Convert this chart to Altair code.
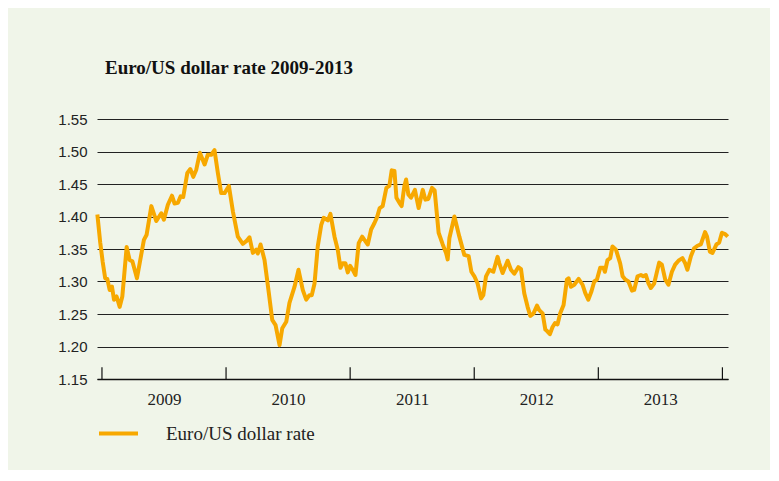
import altair as alt
import pandas as pd

# --- data (decimal year, EUR/USD rate) ---
time_years = [
    2008.963, 2008.986, 2009.006, 2009.026, 2009.043, 2009.062, 2009.081, 2009.097, 2009.118, 2009.143,
    2009.164, 2009.199, 2009.223, 2009.245, 2009.282, 2009.338, 2009.360, 2009.398, 2009.438, 2009.478,
    2009.499, 2009.531, 2009.564, 2009.585, 2009.612, 2009.634, 2009.655, 2009.688, 2009.712, 2009.736,
    2009.760, 2009.789, 2009.827, 2009.853, 2009.881, 2009.907, 2009.934, 2009.961, 2009.988, 2010.023,
    2010.055, 2010.095, 2010.135, 2010.163, 2010.189, 2010.216, 2010.243, 2010.256, 2010.278, 2010.310,
    2010.345, 2010.372, 2010.399, 2010.431, 2010.453, 2010.485, 2010.511, 2010.552, 2010.584, 2010.618,
    2010.646, 2010.672, 2010.691, 2010.713, 2010.739, 2010.767, 2010.787, 2010.820, 2010.841, 2010.874,
    2010.900, 2010.922, 2010.940, 2010.962, 2010.981, 2011.000, 2011.021, 2011.043, 2011.069, 2011.097,
    2011.115, 2011.142, 2011.169, 2011.196, 2011.217, 2011.238, 2011.262, 2011.292, 2011.316, 2011.335,
    2011.357, 2011.373, 2011.397, 2011.415, 2011.437, 2011.451, 2011.469, 2011.491, 2011.522, 2011.552,
    2011.585, 2011.606, 2011.630, 2011.660, 2011.681, 2011.713, 2011.746, 2011.773, 2011.786, 2011.800,
    2011.840, 2011.880, 2011.920, 2011.955, 2011.977, 2012.001, 2012.027, 2012.055, 2012.073, 2012.095,
    2012.122, 2012.154, 2012.188, 2012.202, 2012.229, 2012.269, 2012.296, 2012.323, 2012.355, 2012.377,
    2012.403, 2012.430, 2012.452, 2012.478, 2012.506, 2012.524, 2012.551, 2012.573, 2012.591, 2012.610,
    2012.631, 2012.651, 2012.671, 2012.693, 2012.720, 2012.747, 2012.760, 2012.779, 2012.806, 2012.841,
    2012.873, 2012.895, 2012.919, 2012.945, 2012.967, 2012.989, 2013.015, 2013.042, 2013.053, 2013.074,
    2013.096, 2013.114, 2013.142, 2013.176, 2013.196, 2013.217, 2013.243, 2013.271, 2013.289, 2013.316,
    2013.343, 2013.362, 2013.383, 2013.404, 2013.423, 2013.450, 2013.490, 2013.512, 2013.539, 2013.565,
    2013.593, 2013.619, 2013.646, 2013.678, 2013.700, 2013.718, 2013.746, 2013.772, 2013.799, 2013.826,
    2013.860, 2013.876, 2013.899, 2013.920, 2013.952, 2013.974, 2013.996, 2014.022, 2014.043,
]
rates = [
    1.403, 1.360, 1.330, 1.305, 1.304, 1.287, 1.292, 1.272, 1.277, 1.261,
    1.277, 1.353, 1.333, 1.331, 1.305, 1.364, 1.372, 1.416, 1.393, 1.405,
    1.395, 1.418, 1.432, 1.420, 1.421, 1.431, 1.430, 1.467, 1.473, 1.461,
    1.472, 1.498, 1.480, 1.495, 1.495, 1.502, 1.467, 1.436, 1.436, 1.447,
    1.408, 1.369, 1.358, 1.362, 1.368, 1.344, 1.349, 1.343, 1.357, 1.333,
    1.282, 1.241, 1.233, 1.202, 1.228, 1.238, 1.267, 1.292, 1.318, 1.287,
    1.272, 1.279, 1.279, 1.297, 1.354, 1.387, 1.398, 1.394, 1.404, 1.369,
    1.349, 1.321, 1.328, 1.328, 1.314, 1.324, 1.318, 1.310, 1.359, 1.369,
    1.364, 1.357, 1.380, 1.390, 1.399, 1.413, 1.416, 1.444, 1.447, 1.471,
    1.470, 1.429, 1.421, 1.416, 1.447, 1.457, 1.434, 1.429, 1.441, 1.413,
    1.441, 1.426, 1.427, 1.444, 1.440, 1.375, 1.357, 1.344, 1.334, 1.367,
    1.400, 1.369, 1.341, 1.339, 1.315, 1.308, 1.297, 1.274, 1.279, 1.308,
    1.318, 1.315, 1.338, 1.328, 1.313, 1.332, 1.318, 1.312, 1.322, 1.319,
    1.282, 1.261, 1.247, 1.251, 1.263, 1.256, 1.251, 1.226, 1.223, 1.219,
    1.230, 1.236, 1.234, 1.251, 1.264, 1.303, 1.305, 1.292, 1.295, 1.304,
    1.295, 1.282, 1.272, 1.285, 1.300, 1.303, 1.321, 1.321, 1.315, 1.333,
    1.336, 1.354, 1.349, 1.328, 1.308, 1.303, 1.300, 1.286, 1.287, 1.308,
    1.310, 1.308, 1.310, 1.297, 1.290, 1.297, 1.329, 1.326, 1.303, 1.295,
    1.315, 1.326, 1.332, 1.336, 1.328, 1.318, 1.339, 1.351, 1.355, 1.357,
    1.376, 1.369, 1.346, 1.344, 1.357, 1.360, 1.375, 1.373, 1.369,
]
series_name = "Euro/US dollar rate"
year_boundaries = [2009, 2010, 2011, 2012, 2013, 2014]
year_label_positions = [2009.5, 2010.5, 2011.5, 2012.5, 2013.5]
y_ticks = [1.15, 1.20, 1.25, 1.30, 1.35, 1.40, 1.45, 1.50, 1.55]

df = pd.DataFrame({"t": time_years, "rate": rates, "series": series_name})
ticks_df = pd.DataFrame({"t": year_boundaries, "y0": 1.15, "y1": 1.168})

ORANGE = "#F7A800"
BG = "#F0F5E9"

x_scale = alt.Scale(domain=[2008.96, 2014.045], nice=False, zero=False)
y_scale = alt.Scale(domain=[1.15, 1.55], nice=False, zero=False)

x_axis = alt.Axis(values=year_label_positions, labelExpr="floor(datum.value)",
                  ticks=False, grid=False, domain=True, domainColor="#111",
                  domainWidth=1.3, labelFont="Liberation Serif", labelFontSize=17,
                  labelColor="#222", labelPadding=12)
y_axis = alt.Axis(values=y_ticks, format=".2f", grid=True, gridColor="#222",
                  gridWidth=1, domain=False, ticks=False, labelFont="Liberation Sans",
                  labelFontSize=15, labelColor="#222", labelPadding=10,
                  labelOverlap=False)

line = alt.Chart(df).mark_line(strokeWidth=4, strokeJoin="round").encode(
    x=alt.X("t:Q", scale=x_scale, title=None, axis=x_axis),
    y=alt.Y("rate:Q", scale=y_scale, title=None, axis=y_axis),
    color=alt.Color("series:N", scale=alt.Scale(range=[ORANGE]),
                    legend=alt.Legend(title=None, orient="none", legendX=0, legendY=293,
                                      symbolType="stroke", symbolSize=1521,
                                      symbolStrokeWidth=4, labelOffset=26,
                                      labelFont="Liberation Serif", labelFontSize=19,
                                      labelColor="#222")),
)

ticks = alt.Chart(ticks_df).mark_rule(color="#111", strokeWidth=1.2).encode(
    x=alt.X("t:Q", scale=x_scale, title=None, axis=x_axis),
    y=alt.Y("y0:Q", scale=y_scale, title=None, axis=y_axis),
    y2="y1:Q",
)

chart = alt.layer(line, ticks).properties(
    width=631,
    height=260,
    background=BG,
    padding={"left": 89, "top": 111, "right": 42, "bottom": 91},
    autosize=alt.AutoSizeParams(type="none"),
    title=alt.TitleParams("Euro/US dollar rate 2009-2013", anchor="start", frame="group",
                          dx=8, offset=34, font="Liberation Serif", fontSize=19,
                          fontWeight="bold", color="#111"),
).configure_view(stroke=None)

chart.save("out.html", embed_options={"renderer": "svg", "actions": False})
